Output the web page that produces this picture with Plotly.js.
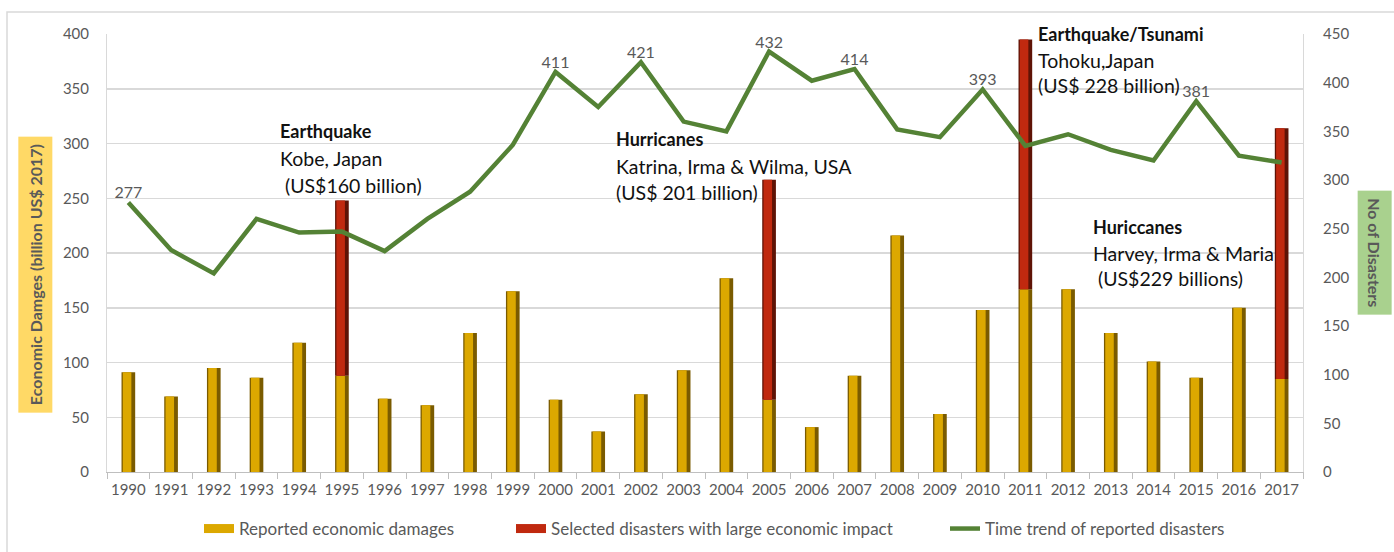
<!DOCTYPE html>
<html>
<head>
<meta charset="utf-8">
<script src="https://cdn.plot.ly/plotly-3.0.1.min.js"></script>
<style>html,body{margin:0;padding:0;background:#fff;}#chart{width:1394px;height:552px;}</style>
</head>
<body>
<div id="chart"></div>
<script>
// ---- data ----
const years = ['1990','1991','1992','1993','1994','1995','1996','1997','1998','1999','2000','2001','2002','2003','2004','2005','2006','2007','2008','2009','2010','2011','2012','2013','2014','2015','2016','2017'];
const reportedDamages = [91,69,95,86,118,88,67,61,127,165,66,37,71,93,177,66,41,88,216,53,148,167,167,127,101,86,150,85];
const selectedYears = ['1995','2005','2011','2017'];
const selectedDamages = [160,201,228,229];
const disasterCounts = [277,228,204,260,246,247,227,260,288,336,411,375,421,360,350,432,402,414,352,344,393,335,347,331,320,381,325,318];
const labeledYears = ['1990','2000','2002','2005','2007','2010','2015'];
const yTicksLeft = [0,50,100,150,200,250,300,350,400];
const yTicksRight = [0,50,100,150,200,250,300,350,400,450];

// ---- layout helpers (pixel -> paper / container) ----
const W = 1394, H = 552;
const L = 107, R = 1303, T = 34, B = 471.7;
const px = v => (v - L) / (R - L);
const py = v => (B - v) / (B - T);
const cx = v => v / W;
const cy = v => 1 - v / H;

const selectedBase = selectedYears.map(y => reportedDamages[years.indexOf(y)]);
const lineText = years.map((y, i) => labeledYears.includes(y) ? String(disasterCounts[i]) : '');

const FONT = 'Lato, "Open Sans", sans-serif';
const GRAY = '#595959';

const traces = [
  {type:'bar', x:years, y:reportedDamages, width:0.32, offset:-0.16,
   marker:{color:'#7a5b00'}, showlegend:false, hoverinfo:'skip'},
  {type:'bar', x:years, y:reportedDamages, width:0.2, offset:-0.13,
   marker:{color:'#dca800'}, showlegend:false, hoverinfo:'skip'},
  {type:'bar', x:selectedYears, y:selectedDamages, base:selectedBase, width:0.32, offset:-0.16,
   marker:{color:'#5e1306'}, showlegend:false, hoverinfo:'skip'},
  {type:'bar', x:selectedYears, y:selectedDamages, base:selectedBase, width:0.2, offset:-0.13,
   marker:{color:'#c0290f'}, showlegend:false, hoverinfo:'skip'},
  {type:'scatter', mode:'lines+text', x:years, y:disasterCounts, yaxis:'y2',
   line:{color:'#548235', width:4.5}, text:lineText, textposition:'top center',
   textfont:{family:FONT, size:16, color:GRAY}, cliponaxis:false,
   name:'Time trend of reported disasters', legend:'legend3'},
  // legend-only swatches for the bar series
  {type:'scatter', mode:'lines', x:[null], y:[null], line:{color:'#dca800', width:9},
   name:'Reported economic damages', legend:'legend', hoverinfo:'skip'},
  {type:'scatter', mode:'lines', x:[null], y:[null], line:{color:'#c0290f', width:9},
   name:'Selected disasters with large economic impact', legend:'legend2', hoverinfo:'skip'}
];

function ann(text, x, y, size) {
  return {text:text, xref:'paper', yref:'paper', x:px(x), y:py(y),
    xanchor:'left', yanchor:'middle', showarrow:false,
    font:{family:FONT, size:size, color:'#111'}};
}

const annotations = [
  ann('<b>Earthquake</b>', 278, 131, 18),
  ann('Kobe, Japan', 278, 158, 19.5),
  ann(' (US$160 billion)', 278, 185, 19.5),
  ann('<b>Hurricanes</b>', 614, 139, 18),
  ann('Katrina, Irma &amp; Wilma, USA', 614, 166, 19.5),
  ann('(US$ 201 billion)', 614, 192, 19.5),
  ann('<b>Earthquake/Tsunami</b>', 1036, 34, 18),
  ann('Tohoku,Japan', 1036, 60, 19.5),
  ann('(US$ 228 billion)', 1036, 85, 19.5),
  ann('<b>Huriccanes</b>', 1091, 227, 18),
  ann('Harvey, Irma &amp; Maria', 1091, 253, 19.5),
  ann(' (US$229 billions)', 1091, 278, 19.5),
  {text:'<b>Economic Damges (billion US$ 2017)</b>', xref:'paper', yref:'paper', x:px(35), y:py(275),
   xanchor:'center', yanchor:'middle', textangle:-90, showarrow:false, bgcolor:'#ffd966',
   borderpad:7, font:{family:FONT, size:16, color:GRAY}},
  {text:'<b>No of Disasters</b>', xref:'paper', yref:'paper', x:px(1375), y:py(252),
   xanchor:'center', yanchor:'middle', textangle:90, showarrow:false, bgcolor:'#a9d18e',
   borderpad:7, font:{family:FONT, size:16, color:GRAY}}
];

const legendCommon = {orientation:'h', xref:'container', yref:'container', yanchor:'middle', xanchor:'left', y:cy(529),
  font:{family:FONT, size:17, color:GRAY}, bgcolor:'rgba(0,0,0,0)'};

const layout = {
  width:W, height:H,
  margin:{l:L, r:W-R, t:T, b:H-B, autoexpand:false},
  paper_bgcolor:'#fff', plot_bgcolor:'#fff',
  barmode:'overlay',
  font:{family:FONT, color:GRAY},
  xaxis:{type:'category', categoryorder:'array', categoryarray:years, range:[-0.5, years.length-0.5],
    tickangle:0, tickson:'boundaries', ticks:'outside', ticklen:6, tickcolor:'#bfbfbf',
    ticklabelstandoff:4, automargin:false,
    showline:true, linecolor:'#bfbfbf', linewidth:1, showgrid:false,
    tickfont:{family:FONT, size:15, color:GRAY}, fixedrange:true},
  yaxis:{range:[0,400], tickvals:yTicksLeft, showgrid:true, gridcolor:'#d9d9d9', gridwidth:1.5,
    zeroline:false, showline:true, linecolor:'#d9d9d9', ticks:'', ticklabelstandoff:14, automargin:false,
    tickfont:{family:FONT, size:15, color:GRAY}, fixedrange:true},
  yaxis2:{range:[0,450], tickvals:yTicksRight, overlaying:'y', side:'right', showgrid:false,
    zeroline:false, showline:true, linecolor:'#d9d9d9', ticks:'', ticklabelstandoff:16, automargin:false,
    tickfont:{family:FONT, size:15, color:GRAY}, fixedrange:true},
  legend:Object.assign({x:cx(199)}, legendCommon),
  legend2:Object.assign({x:cx(511)}, legendCommon),
  legend3:Object.assign({x:cx(945)}, legendCommon),
  annotations:annotations,
  shapes:[{type:'rect', xref:'paper', yref:'paper', x0:px(7), x1:px(1420), y0:py(580), y1:py(12),
    line:{color:'#d9d9d9', width:1.5}, fillcolor:'rgba(0,0,0,0)', layer:'below'}]
};

Plotly.newPlot('chart', traces, layout, {displayModeBar:false, staticPlot:true});
</script>
</body>
</html>
